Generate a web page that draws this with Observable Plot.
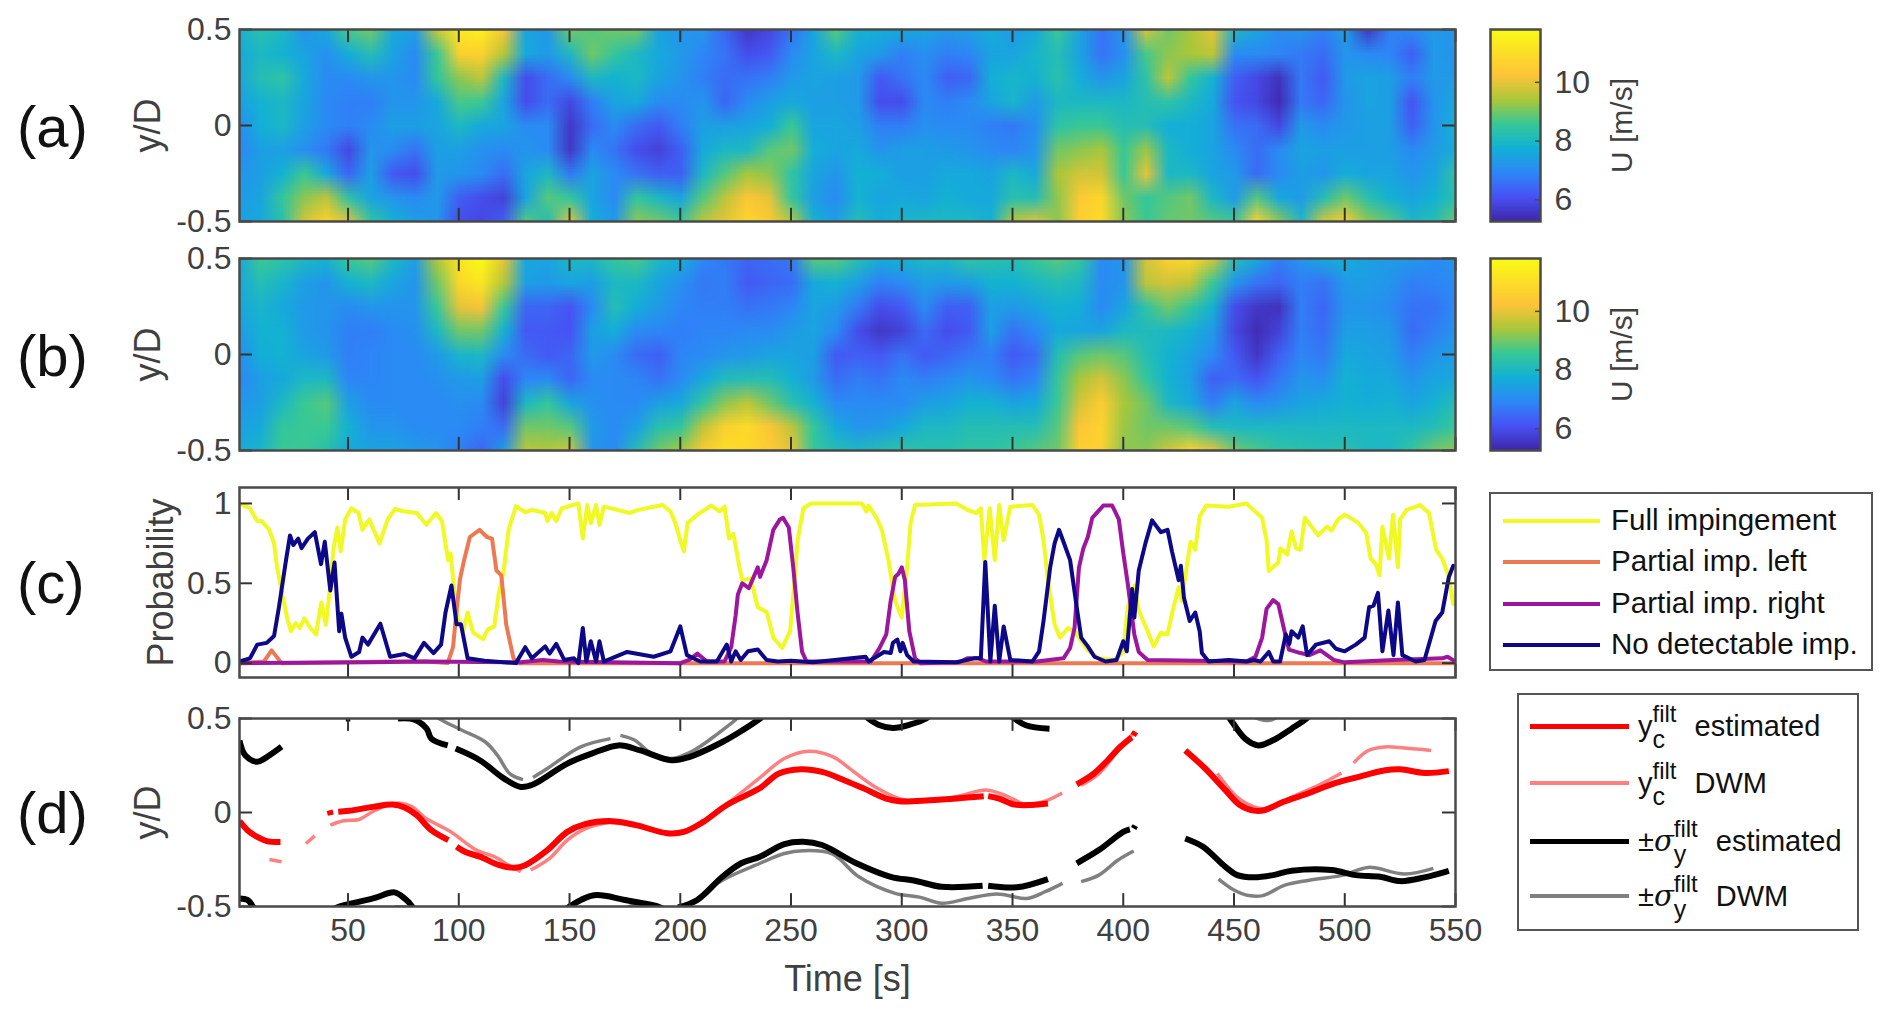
<!DOCTYPE html>
<html><head><meta charset="utf-8">
<script src="https://cdn.jsdelivr.net/npm/d3@7"></script>
<script src="https://cdn.jsdelivr.net/npm/@observablehq/plot@0.6"></script>
<style>
html,body{margin:0;background:#fff}
#page{position:relative;width:1892px;height:1020px;overflow:hidden;font-family:"Liberation Sans",Arial,sans-serif}
#page>svg,#page>div{position:absolute}
.letter{font-size:58px;color:#111;line-height:1}
.lg{border:2px solid #555;box-sizing:border-box;background:#fff}
.row{position:absolute;display:flex;align-items:center;color:#111;white-space:nowrap;line-height:1}
.sw{position:absolute}
.ss{position:relative;display:inline-block;width:34px;height:30px}
.ss b{position:absolute;left:0;font-weight:normal}
.ss .up{top:-10px;font-size:24px}
.ss .dn{top:15px;font-size:25px}
</style></head><body><div id="page"></div>
<script>
const timeTicks=[50,100,150,200,250,300,350,400,450,500,550];
const yTicks=[-0.5,0,0.5];
const probTicks=[0,0.5,1];
const cbarTicks=[6,8,10];
const yRows=[0.5,0.375,0.25,0.125,0,-0.125,-0.25,-0.375,-0.5];
const heatStep=10;
const parulaColors=["#3e26a8","#4752f4","#2d87f7","#12b1d6","#37c897","#abc739","#fec338","#f9fb15"];
const parulaStops=[0,.127,.254,.381,.508,.635,.762,1];
const uMin=5.26,uMax=11.8;
const heatA=[
[7.7,7.6,7.5,7.4,7.0,6.9,7.2,7.3,7.4],[8.3,8,8.2,7.8,7.7,7.4,7.4,7.5,7.6],[8.0,7.8,8.4,8,8,7.4,7.8,8.5,8.3],[7.2,7.5,7.6,7.5,7.4,7.1,8.6,9.2,9.8],
[7.6,7.1,7.0,7.0,7.0,6.7,7.6,9.6,10.6],[8.7,7.7,7.0,6.8,6.8,5.9,6.4,8.4,9.9],[9,8.2,7.2,6.8,7,7.2,7.4,7.5,8.5],[7.6,7.5,7.2,7.2,7.4,7.0,6.2,7.2,7.8],
[7.4,7,7,7.2,7.4,6.6,6.0,7,7.4],[9.7,8.6,8.5,7.6,7.5,7.4,7.3,7.3,7.2],[11.3,10.6,9.2,8.7,8,7.4,7.2,6.3,6],[11.5,10.6,9.6,8.6,7.6,7.1,7.0,6.0,5.9],
[10.2,9.5,8,7.5,7.5,7,6.5,5.8,6.3],[7.5,7.6,6,6,7,7.2,7.5,7.5,8.8],[7.3,7.3,6.5,6.5,7,7,8,8.8,8.2],[9,8.0,7,5.9,5.6,5.6,6.7,8.5,10],
[8.8,9,8,6.8,6.5,7,7.5,7.5,7.7],[9,8.5,7.8,7.5,7,6.6,7,7,7.3],[9,8,8,7.6,6.5,6,6.6,8.5,9.2],[7.5,7.6,7.5,7,6.2,5.8,6.3,8,9],
[7.2,7.3,7.2,7,6.8,6.3,6.3,7.5,8.6],[7.2,6.9,6.8,7.2,7.4,7.6,8,8.8,9.6],[6.4,6.6,6.5,6.4,7.4,8,8.8,9.6,10],[5.6,6,6.6,7,7.5,8,9.4,10.3,10.8],
[5.9,6.2,6.8,7.4,7.7,8.8,9.2,10,10.4],[6.6,7,7.3,7.6,8.6,9,8.4,8.5,9.5],[7.5,7.5,7.5,7.4,7.5,7.7,7.5,7.4,7.8],[8.8,8,7.4,7.4,7.5,7.5,7.2,7,7.4],
[7.8,7.5,7.3,7.3,7.4,7.6,7.8,7.8,8.2],[7.7,7.3,6.2,6.0,6.8,7.2,7.7,7.5,7.7],[7.6,6.8,6.6,6.0,6.8,7.4,7.4,7.6,7.9],[7.5,7.1,7.0,7,7.1,7.4,7.4,7.5,8],
[7.3,6.8,6.3,6.8,7,7.3,7.6,7.8,8],[7.4,6.9,6.4,7,7,7.2,7.6,7.6,8],[7.7,7.5,7.7,7.5,6.8,7,7.5,7.6,7.8],[7.3,7.5,7.9,7.9,6.7,6.9,8,8.3,9.5],
[7.6,7.9,7.8,7.3,7.1,7.2,7.6,8.2,9.9],[8.6,8.2,8.3,8,8.4,9,9.4,9.2,9.2],[7.5,7.5,7.7,8,8.6,9.2,9.8,10.4,10.6],[6.6,6.6,7.2,8,8.6,9.4,9.8,10.8,10.9],
[7.2,7.1,7.5,8,8.2,8.6,8.6,9,9.2],[9.8,8.7,8.4,8.2,8.2,9.3,10,8.5,8.6],[9,9.2,9.6,8.4,7.7,8,8,8.8,8.9],[9.4,9.4,8.5,8,7.7,7.7,8,9,9],
[10,9.6,7.8,7.6,7.5,7.5,7.5,8,8.8],[8,7,6.3,6.1,6.6,7,7.3,7.3,8.6],[7.5,7,5.9,5.9,6.5,6.5,6.5,8.8,10.6],[7,6.9,5.5,5.4,5.9,7,7,7.6,9.2],
[7.2,6.7,6.7,6.7,7.3,7.5,7.4,7.3,8],[6.8,6.5,6.2,6.4,7,7.4,7.2,8.2,9.8],[7.4,7.2,7.3,7.2,7.3,7.4,7.7,9,10.5],[5.6,7,7.5,7.5,7.4,7.4,7.5,8.3,9.2],
[6.8,6.9,7.4,7.4,7.4,7.4,7.5,7.8,8.8],[7,6.3,6.8,6.1,6.3,7,7.2,7.5,8],[7.3,7.3,7.3,7.2,7.2,7.3,7.5,7.8,8.2],[7.2,7.2,7.3,7.6,7.8,7.7,8.4,8.3,9]];
const heatB=[
[7.5,7.6,7.5,7.3,7,6.9,7.2,7.4,7.6],[8.6,8.2,7.9,7.8,7.7,7.4,7.4,7.6,7.9],[8.4,7.9,7.6,7.8,7.8,7.6,8,8.5,8.6],[8,7.4,7.3,7.3,7.5,8,8.6,8.6,8.6],
[7.8,7.2,7.2,7.2,7.3,8,8.8,8.6,8.3],[8.6,7.8,7,6.8,6.8,6.9,7.4,7.8,7.6],[8.8,8,7.2,6.8,6.9,6.9,7,7.2,7.5],[8,7.5,7.2,7,7,7,7,7.2,7.5],
[7.4,7.2,7.2,7.1,7,7,7,7,7.3],[9.5,9,8.6,8,7.3,7.1,7,7,7.2],[11.2,10.8,10,9,7.9,7.3,7.1,7,6.8],[11.8,11.2,10.2,9,8,7.4,7,6.8,6.4],
[10,9.5,8.6,7.8,7,6,5.8,6.5,7.4],[7.6,7.4,6.4,6.2,6.5,6.9,8,9,9.6],[7.5,7.3,6.4,6.2,6.2,7,8.5,9,9.5],[8,7.5,6.1,6.1,6.4,6.4,7.5,8.8,9.8],
[8,7.4,7,7.4,7.3,7,7.1,7.3,7.2],[8.5,8,8.2,7.7,7,7,7,7,7],[8.7,8,7.7,7,6.5,6.9,7,7.4,8.2],[8,7.5,7.3,6.9,6.3,6.6,7.4,8.3,9],
[7.7,7.1,6.9,6.8,6.9,7,7.6,8.5,9.4],[6.9,6.7,6.8,6.9,7,7.6,8.5,9.6,10.4],[6.7,6.8,6.8,6.9,7.2,8.1,9.2,10.6,11],[6.4,6.2,6.6,7,7.3,8.2,9.6,10.9,10.8],
[6.5,6.4,6.7,7,7.5,8.2,9,10.3,10.5],[6.7,6.5,6.9,7.3,7.5,7.8,8.3,9.6,10],[8.8,7.6,7.5,7.5,7.4,7.3,7.8,8.5,8.5],[8.8,7.8,7.3,7,6.2,6.5,7,7.6,8.2],
[8.2,7.4,6.7,6,6.3,6.8,7,7.2,8],[7.7,6.8,6,5.6,6.2,6.6,7,7.3,8.2],[7.8,7,6.2,5.8,6.6,7,7,7.6,8.4],[8,7.4,7,6.5,6.2,6.8,7.4,8,8.3],
[8,7.3,6.3,6,6.4,7,7.5,8,8.3],[8.4,7.4,6.3,6.2,6.7,7.2,7.8,8.2,8.4],[8.3,7.8,7.4,7.4,6.8,7,7.8,8.2,8.4],[8.2,7.8,7.3,6.6,6.2,6.6,7.5,8.2,8.6],
[8.6,8,7.5,7,6.5,6.9,7.6,8.2,8.8],[8.8,8.2,7.8,7.6,8.2,8.5,8.6,8.8,9],[8.5,8,7.7,7.5,8.8,9.4,9.8,10.3,10.6],[7,7,7,7.5,9,9.8,10.5,10.7,10.6],
[7.2,7.2,7.5,8,8.8,9.2,9.4,9.3,9.2],[9.8,9.6,8.4,8.1,8.2,8.5,9,9,9.2],[10.6,9.8,9,8,7.8,7.8,8,9,9.8],[10.8,9.6,8.5,7.8,7.5,7.4,7.6,8.8,10.7],
[9.8,8.6,7.8,7.3,7,6.3,6.8,8.2,10],[8.2,7.2,6,5.9,6.2,6.5,7.5,8,9],[7.6,6.6,5.6,5.4,5.6,6.1,7,8,8.7],[6.8,6.4,5.5,5.8,6.3,6.7,7.2,8,8.4],
[7.2,6.8,6.8,6.8,6.9,7.2,7.5,8,8.3],[7.6,6.6,6.4,6.5,6.7,7.1,7.6,8,8.2],[7.7,7.3,7.2,7.4,7.6,7.8,7.8,8,8.3],[7.4,7.4,7.2,7.4,7.5,7.6,7.7,8,8],
[7.3,7.2,7,7.3,7.4,7.6,7.8,8,8],[7.3,6.8,6.6,6.5,6.8,7.2,7.5,8,8.5],[7,6.9,6.6,6.8,7.2,7.5,7.8,8.2,9],[7.2,7,7,7.2,7.4,7.6,8.2,8.6,9.2]];
const probFull=[[1,1],[5.7,.97],[9,.89],[11,.89],[14.4,.835],[16.6,.75],[18,.6],[20.3,.43],[22.5,.285],[24.2,.2],[26.4,.25],[28.2,.22],[30.3,.28],[33,.22],[35.6,.18],[37.3,.33],[38,.38],[40,.24],[41.7,.45],[43.4,.71],[45.2,.85],[46.7,.7],[48.7,.9],[51.5,.97],[54.8,.94],[56.5,.835],[59.6,.9],[64.2,.75],[67.9,.9],[71.2,.965],[75.5,.95],[81,.94],[85.4,.867],[89.7,.94],[92.4,.89],[95.2,.645],[96.3,.687],[98,.455],[100,.264],[102,.2],[104,.317],[106.5,.19],[111,.15],[113,.21],[116,.23],[118,.43],[120.3,.58],[122.5,.835],[125.8,.983],[130,.945],[133,.96],[139,.94],[140,.89],[142,.94],[144,.89],[146.5,.97],[154,1],[156,.78],[158,.99],[159.6,.877],[162,.99],[163.5,.867],[165.5,.98],[171.6,.96],[177,.94],[181,.96],[192,.99],[195.6,.95],[197.8,.877],[200,.77],[201.6,.7],[203.3,.877],[207.7,.93],[214,.987],[217.7,.95],[220,.98],[222,.78],[224,.81],[226.7,.6],[228,.52],[231.7,.53],[235,.35],[239,.32],[242,.16],[246,.095],[249.6,.2],[251.6,.52],[253,.77],[255.6,.97],[259,1],[282,1],[284,.95],[285,.987],[289,.9],[291,.835],[294,.645],[297,.39],[300,.285],[302.4,.6],[304,.877],[306,.99],[324.6,1],[329.6,.96],[333.7,.94],[335.7,.97],[337.3,.645],[339.7,.97],[342,.645],[344,.99],[346,.77],[349,.98],[359,.99],[362,.93],[364,.77],[366,.52],[369,.243],[371.4,.16],[375,.22],[378,.2],[384,.08],[389,.03],[396,.02],[400,.07],[402,.35],[405,.486],[407,.33],[411,.2],[413.7,.105],[417,.19],[420,.18],[422,.31],[425,.476],[426.4,.39],[428.4,.58],[430.4,.76],[432.5,.71],[434.5,.92],[437.5,.987],[447.6,.98],[455.6,1],[458.7,.96],[462.7,.91],[464.7,.77],[465.7,.577],[470,.63],[471,.72],[474,.68],[476,.825],[478,.72],[480,.71],[482,.91],[488,.8],[492,.855],[494,.83],[497,.9],[500,.93],[506,.88],[509.7,.815],[511.7,.655],[514,.62],[515.7,.55],[517,.855],[520,.655],[521.8,.93],[524,.6],[525,.9],[528,.96],[534,.99],[538,.94],[541.3,.71],[544,.655],[547,.54],[549,.37]];
const probLeft=[[1,0],[12,.01],[15.5,.08],[20,0],[70,.01],[85,.01],[95,0],[97.4,.1],[99,.33],[100.6,.53],[102.4,.645],[105,.79],[109.4,.835],[112.7,.79],[115,.78],[117,.58],[119.2,.55],[121.4,.243],[124.7,.03],[126.8,0],[550,0]];
const probRight=[[1,0],[60,.005],[85,.01],[128,.005],[138,.02],[145,.01],[200,0],[204,.02],[207.7,.06],[212,.01],[220,.01],[223,.1],[225,.3],[226,.43],[228,.5],[231,.47],[235,.6],[236,.54],[239,.645],[242,.835],[245,.9],[246.4,.91],[249,.85],[251,.6],[253,.31],[255,.07],[257,.01],[286,.01],[290,.095],[293,.18],[295,.39],[297,.54],[298.5,.56],[300,.6],[301.4,.52],[303.4,.2],[306,.03],[308.5,0],[326,.005],[329.6,.03],[334.7,.03],[338,.01],[361,.01],[373,.03],[376,.095],[378,.22],[380,.6],[382,.72],[384,.79],[386,.91],[391,.987],[395,.987],[398,.9],[400,.69],[402,.5],[405,.18],[407,.07],[411,.02],[455.6,.01],[459.7,.04],[462.7,.16],[464.7,.34],[467.7,.395],[470,.37],[472.8,.2],[474.8,.085],[480,.063],[484,.05],[489,.08],[495,.02],[500,.005],[522,.02],[544,.03],[546.4,.04],[550,.01]];
const probNone=[[1,.01],[5.7,.03],[9,.116],[13.3,.127],[16.6,.17],[18.8,.35],[22,.645],[23.8,.8],[25.3,.74],[27.5,.78],[29,.72],[31.9,.78],[35,.82],[37.8,.62],[39.5,.76],[42,.455],[43.9,.63],[46,.2],[47,.31],[48.7,.16],[51.5,.04],[55,.07],[56.5,.16],[59,.116],[64.6,.247],[69,.04],[75.5,.057],[80,.03],[84.3,.127],[88.6,.063],[92,.116],[94,.317],[96.7,.486],[99,.243],[101,.243],[104,.03],[111.6,.015],[125.8,0],[130,.1],[133,.03],[139,.105],[141,.06],[144,.12],[147.6,.02],[152,.03],[154,0],[156,.22],[157.6,.01],[159.6,.137],[162,.01],[163.5,.137],[165.5,.01],[176,.07],[188,.04],[195.6,.074],[200,.23],[203,.05],[209,.01],[216.5,.01],[221,.116],[223,.01],[225,.074],[227.3,.02],[230.6,.074],[235,.085],[239,.02],[244,.01],[250,.015],[260,.006],[283.7,.04],[285,.01],[292,.07],[295,.063],[296,.127],[298,.148],[299.4,.074],[300.4,.127],[302.4,.05],[305.4,.01],[324.6,.006],[332.7,.03],[335.7,.03],[337.7,.634],[340,.01],[342,.36],[344,.01],[346,.23],[349,.02],[359,.01],[362,.074],[364,.264],[367,.6],[369,.75],[371,.835],[373,.76],[376,.645],[379,.35],[381,.16],[384,.105],[387,.04],[392,.01],[397,.02],[400,.137],[401.6,.074],[404,.465],[405,.285],[407,.58],[410,.75],[413,.894],[417,.82],[420,.835],[422,.7],[425,.52],[426,.61],[427.4,.41],[430,.264],[432.5,.317],[434.5,.2],[435.5,.063],[438.5,.01],[447.6,.02],[456,.01],[459,.02],[462,.01],[465.7,.07],[467.7,.01],[470.8,.01],[473.4,.18],[475,.12],[476,.2],[479,.16],[481,.23],[483,.05],[487,.116],[493,.137],[496,.09],[500,.074],[505,.116],[509,.16],[511,.35],[513,.36],[515,.44],[517,.074],[519.7,.33],[522,.05],[524,.38],[526,.05],[532,.01],[536,.02],[541,.264],[544,.317],[547,.54],[549,.61]];
const yEst=[[1,-.046],[4.6,-.094],[9,-.13],[13.3,-.152],[19.5,-.157],null,[41.7,.012],[42.2,-.014],null,[45.6,.004],[50.4,.009],[61.3,.03],[70,.042],[75.5,.027],[81,-.014],[87.6,-.094],[95.3,-.147],null,[99,-.182],[103,-.21],[109.5,-.235],[118.3,-.28],[125,-.294],[130,-.28],[140,-.2],[149,-.103],[157,-.062],[169,-.046],[180,-.067],[194,-.11],[201.6,-.103],[210.4,-.05],[221,.04],[236,.13],[244.5,.207],[254.4,.23],[264,.216],[274,.172],[283,.127],[293,.074],[299,.06],[312.5,.065],[328,.078],[337,.087],null,[339,.087],[344,.074],[351,.042],[358.7,.04],[366,.048],null,[379,.15],[386.7,.207],[393,.278],[398.7,.35],[403.8,.4],null,[404.5,.41],[405.5,.43],null,[428,.33],[437,.234],[446,.12],[452.6,.04],[459,.01],[463.6,.012],[472.4,.057],[483,.1],[494,.15],[505,.186],[518.3,.225],[525,.23],[536,.21],[547,.22]];
const yDwm=[[14.5,-.25],[20,-.262],null,[31,-.165],[35,-.124],null,[42,-.067],[48,-.044],[55,-.037],[61,.004],[68,.04],[73,.05],[79,.03],[85,-.03],[96,-.1],[108,-.2],[116,-.235],[122.5,-.28],[128,-.315],null,[132.5,-.306],[141,-.244],[149,-.147],[157.5,-.085],[168.5,-.053],[180,-.067],[194,-.107],[204,-.094],[210.4,-.05],[221,.045],[236,.186],[247,.287],[258,.326],[269,.296],[277.4,.225],[288,.136],[299,.074],[312.5,.06],[325.5,.087],[338.6,.119],[347.4,.087],[356,.044],[365,.062],[372.4,.104],null,[381,.145],[389,.207],[397.7,.33],[404.3,.42],null,[442.5,.207],[451.3,.083],[459,.03],[465.5,.02],[476.5,.083],[489.7,.154],[498.5,.21],null,[504,.264],[510.6,.33],[518,.349],[527,.343],[539,.33]];
const sigEstUp=[[1,.384],[3.6,.304],[9,.27],[14.5,.304],[20,.35],null,[49,.5],[51,.5],null,[72.5,.5],[80,.494],[85.5,.446],[87.6,.393],[95,.357],null,[98.6,.34],[109.5,.278],[120.5,.18],[128,.136],[133.5,.149],[149,.26],[160,.313],[172,.357],[182,.33],[196,.278],[204,.295],[219,.375],[228,.437],[236,.5],[240,.54],null,[282,.53],[284,.508],[289.4,.467],[296,.45],[303.6,.467],[311,.5],[313,.52],null,[348,.53],[350,.508],[356,.464],[366.7,.446],null,[446,.53],[447.6,.508],[455,.393],[461,.357],[467.6,.384],[476,.446],[483,.503],[485,.53]];
const sigEstDn=[[1,-.457],[4.6,-.465],[7,-.5],[8,-.53],null,[44,-.51],[46,-.5],[61.3,-.457],[71,-.425],[75.5,-.457],[79,-.5],[80,-.53],null,[148,-.52],[150,-.5],[161,-.44],[175,-.465],[190,-.5],[192,-.51],null,[199,-.505],[207.7,-.465],[219,-.342],[227.5,-.27],[236,-.235],[247,-.168],[255.5,-.156],[264,-.173],[279.5,-.27],[295,-.342],[306,-.363],[318,-.395],[336.5,-.39],null,[339,-.39],[352,-.398],[366,-.354],null,[379,-.27],[389,-.2],[400,-.103],[403,-.09],null,[404.7,-.085],[405.4,-.07],null,[428,-.138],[436,-.182],[446,-.288],[451.5,-.333],[459,-.345],[467.7,-.333],[476,-.31],[494,-.306],[505,-.333],[516,-.342],[525,-.365],[536,-.345],[547,-.31]];
const sigDwmUp=[[88,.53],[91,.5],[101,.44],[112,.375],[117.5,.304],[123,.207],[129,.175],null,[133.5,.186],[140,.234],[155,.349],[168.5,.393],null,[173,.41],[179.5,.384],[187,.313],[196,.287],[206,.33],[217,.42],[225.6,.5],[228,.53],null,[459,.51],[462,.494],[466,.49],[470,.51]];
const sigDwmDn=[[71,-.502],[76,-.502],null,[175,-.51],[179,-.495],[184,-.51],null,[202,-.52],[210,-.44],[219,-.36],[236,-.27],[247,-.218],[255.5,-.203],[268.6,-.22],[280.6,-.342],[297,-.43],[308,-.45],[318,-.483],[330,-.457],[343,-.433],[356.5,-.457],[365,-.42],[372.6,-.377],null,[381,-.368],[389,-.333],[397.7,-.253],[404.7,-.205],null,[443,-.354],[450,-.412],[456.7,-.442],[463,-.442],[473,-.386],[484,-.36],[499.4,-.333],[510.6,-.292],[527,-.327],[540,-.297]];
const legendC=[["Full impingement","#f0f921"],["Partial imp. left","#ed7953"],["Partial imp. right","#9c179e"],["No detectable imp.","#0d0887"]];

const page=document.getElementById("page");
const FONT='"Liberation Sans",Arial,sans-serif', INK="#404040", FRAME="#4a4a4a";
const px=d=>d?d[0]:NaN, py=d=>d?d[1]:NaN;
const uColor={type:"linear",domain:parulaStops.map(s=>uMin+s*(uMax-uMin)),range:parulaColors,interpolate:"rgb",clamp:true};
const fmt=d=>String(d);
function place(svg,left,top){svg.style.left=left+"px";svg.style.top=top+"px";svg.style.overflow="visible";svg.style.background="transparent";page.appendChild(svg);}
function commonAxes(yT,yLo,yHi,label,labelSize,labelDx,showX){
  const tx=(yHi-yLo)*13/190, ty=549*13/1216;
  const rule={stroke:"#333",strokeWidth:2};
  return [
    Plot.ruleX(timeTicks,{y1:yLo,y2:yLo+tx,...rule}),
    Plot.ruleX(timeTicks,{y1:yHi,y2:yHi-tx,...rule}),
    Plot.ruleY(yT,{x1:1,x2:1+ty,...rule}),
    Plot.ruleY(yT,{x1:550,x2:550-ty,...rule}),
    ...(showX?[Plot.axisX(timeTicks,{anchor:"bottom",tickSize:0,tickFormat:fmt,tickPadding:12,fontSize:32,fill:INK,label:null})]:[]),
    Plot.axisY(yT,{anchor:"left",tickSize:0,tickFormat:fmt,tickPadding:8,fontSize:32,fill:INK,label:null}),
    Plot.text([label],{frameAnchor:"left",textAnchor:"middle",rotate:-90,dx:labelDx,fontSize:labelSize,fill:INK}),
    Plot.frame({stroke:FRAME,strokeWidth:2.5})
  ];
}
const ML=239,MR=25,W=1480,MT=14;
function heatPanel(grid,top,h){
  const flat=yRows.flatMap((_,j)=>grid.map(col=>col[j]));
  const svg=Plot.plot({width:W,height:h+2*MT,marginLeft:ML,marginRight:MR,marginTop:MT,marginBottom:MT,style:{fontFamily:FONT,color:INK,background:"transparent"},
    x:{domain:[1,550],axis:null},y:{domain:[-.5,.5],axis:null},color:uColor,
    marks:[Plot.raster(flat,{width:grid.length,height:yRows.length,x1:-heatStep/2,x2:550+heatStep/2,y1:.5625,y2:-.5625,clip:true}),...commonAxes(yTicks,-.5,.5,"y/D",36,-91,false)]});
  place(svg,0,top-MT);
}
function colorbar(top,h){
  const vals=d3.range(uMax,uMin,-0.02);
  const svg=Plot.plot({width:400,height:h+2*MT,marginLeft:10,marginRight:340,marginTop:MT,marginBottom:MT,style:{fontFamily:FONT,color:INK,background:"transparent"},
    x:{domain:[0,1],axis:null},y:{domain:[uMin,uMax],axis:null},color:uColor,
    marks:[Plot.raster(vals,{width:1,height:vals.length,x1:0,x2:1,y1:uMax,y2:uMin}),
      Plot.axisY(cbarTicks,{anchor:"right",tickSize:0,tickFormat:fmt,tickPadding:14,fontSize:32,fill:INK,label:null}),
      Plot.ruleY(cbarTicks,{x1:.9,x2:1,stroke:FRAME,strokeWidth:1.5}),
      Plot.text(["U [m/s]"],{frameAnchor:"right",textAnchor:"middle",rotate:-90,dx:82,fontSize:30,fill:INK}),
      Plot.frame({stroke:FRAME,strokeWidth:2.5})]});
  place(svg,1480,top-MT);
}
heatPanel(heatA,29,192);
heatPanel(heatB,258,192);
colorbar(29,192);colorbar(258,192);
// panel c
(function(){
  const series=[[probFull,legendC[0][1]],[probLeft,legendC[1][1]],[probRight,legendC[2][1]],[probNone,legendC[3][1]]];
  const svg=Plot.plot({width:W,height:190+2*MT,marginLeft:ML,marginRight:MR,marginTop:MT,marginBottom:MT,style:{fontFamily:FONT,color:INK,background:"transparent"},
    x:{domain:[1,550],axis:null},y:{domain:[-.09,1.1],axis:null},
    marks:[...series.map(([s,c])=>Plot.line(s,{x:px,y:py,stroke:c,strokeWidth:4,clip:true})),...commonAxes(probTicks,-.09,1.1,"Probability",36,-78,false)]});
  place(svg,0,487-MT);
})();
// panel d
(function(){
  const series=[[sigDwmUp,"#808080",3.5],[sigDwmDn,"#808080",3.5],[yDwm,"#ff8080",3.5],[sigEstUp,"#000",6],[sigEstDn,"#000",6],[yEst,"#ff0000",6]];
  const svg=Plot.plot({width:W,height:188+MT+114,marginLeft:ML,marginRight:MR,marginTop:MT,marginBottom:114,style:{fontFamily:FONT,color:INK,background:"transparent"},
    x:{domain:[1,550],axis:null},y:{domain:[-.5,.5],axis:null},
    marks:[...series.map(([s,c,w])=>Plot.line(s,{x:px,y:py,stroke:c,strokeWidth:w,strokeLinecap:"butt",curve:"catmull-rom",clip:true})),...commonAxes(yTicks,-.5,.5,"y/D",36,-91,true),
      Plot.text(["Time [s]"],{frameAnchor:"bottom",dy:84,fontSize:36,fill:INK})]});
  place(svg,0,718-MT);
})();
// letters
[["(a)",17,132],["(b)",17,361],["(c)",17,588],["(d)",17,818]].forEach(([t,x,yc])=>{
  const d=document.createElement("div");d.className="letter";d.textContent=t;d.style.left=x+"px";d.style.top=(yc-34)+"px";page.appendChild(d);
});
// legends
function box(x0,y0,x1,y1){const d=document.createElement("div");d.className="lg";Object.assign(d.style,{left:x0+"px",top:y0+"px",width:(x1-x0)+"px",height:(y1-y0)+"px"});page.appendChild(d);}
function swatch(x0,x1,y,c,w){const d=document.createElement("div");d.className="sw";Object.assign(d.style,{left:x0+"px",top:(y-w/2)+"px",width:(x1-x0)+"px",height:w+"px",background:c});page.appendChild(d);}
function row(x,y,html,fs){const d=document.createElement("div");d.className="row";d.innerHTML=html;Object.assign(d.style,{left:x+"px",top:(y-fs/2)+"px",fontSize:fs+"px"});page.appendChild(d);}
box(1489,492,1873,671);
[521,562,604,645].forEach((y,i)=>{swatch(1503,1600,y,legendC[i][1],3.5);row(1611,y-1,legendC[i][0],29.6);});
box(1517,693,1859,931);
const ss=b=>`<span class="ss"><b class="up">filt</b><b class="dn">${b}</b></span>`;
swatch(1530,1629,726,"#ff0000",5);row(1638,726,"y"+ss("c")+"&nbsp;estimated",29);
swatch(1530,1629,783,"#ff8080",3.5);row(1638,783,"y"+ss("c")+"&nbsp;DWM",29);
swatch(1530,1629,841,"#000",5);row(1638,841,"±<i style='font-family:DejaVu Serif'>σ</i>"+ss("y")+"&nbsp;estimated",29);
swatch(1530,1629,896,"#808080",3.5);row(1638,896,"±<i style='font-family:DejaVu Serif'>σ</i>"+ss("y")+"&nbsp;DWM",29);
</script></body></html>
